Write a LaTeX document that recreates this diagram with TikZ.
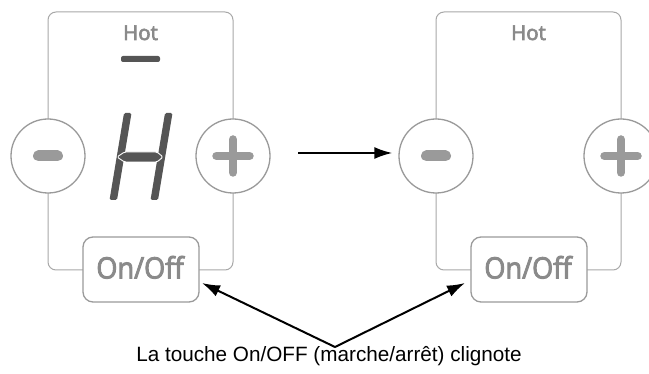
\documentclass[tikz,border=0pt]{standalone}
\usepackage{fontspec}
\setmainfont{Liberation Sans}
\newfontfamily\panelfont[FakeBold=3, FakeStretch=0.92]{Open Sans}
\newfontfamily\hotfont[FakeBold=3]{Open Sans}
\usetikzlibrary{arrows.meta}
\definecolor{rimgray}{HTML}{A8A8A8}
\definecolor{keygray}{HTML}{9A9A9A}
\definecolor{textgray}{HTML}{8A8A8A}
\definecolor{segdark}{HTML}{555555}

\begin{document}
\begin{tikzpicture}[
        x=1pt, y=-1pt,
        panel/.style={draw=rimgray, line width=1pt, rounded corners=8pt, minimum width=185pt, minimum height=258pt, inner sep=0pt},
        keyring/.style={circle, draw=keygray, line width=1.3pt, fill=white, minimum size=74pt, inner sep=0pt},
        keysign/.style={keygray, line width=8.5pt, line cap=round},
        onoffkey/.style={draw=keygray, line width=1.3pt, fill=white, rounded corners=10pt, minimum width=116pt, minimum height=65pt, inner sep=0pt},
        keylabel/.style={font=\panelfont\fontsize{29.5}{29.5}\selectfont, text=textgray, anchor=base, inner sep=0pt},
        hotlabel/.style={font=\hotfont\fontsize{20.5}{20.5}\selectfont, text=textgray, anchor=base, inner sep=0pt},
        segment/.style={fill=segdark, rounded corners=1.5pt},
        pointer/.style={line width=2pt, black},
    ]
    \useasboundingbox (0,0) rectangle (649,374);
    \clip (0,0) rectangle (649,374);

    % Two control panels, before and after
    \foreach \p/\dx in {L/0, R/388} {
        \begin{scope}[xshift=\dx pt]
            \node[panel] (panel\p) at (140.5,141) {};
            \node[hotlabel] (hot\p) at (140.5,40) {Hot};
            \node[keyring] (minus\p) at (48,156) {};
            \draw[keysign, line width=11pt] ([xshift=-9.5pt]minus\p.center) -- ([xshift=9.5pt]minus\p.center);
            \node[keyring] (plus\p) at (233,156) {};
            \draw[keysign] ([xshift=-16.5pt]plus\p.center) -- ([xshift=16.5pt]plus\p.center)
                           ([yshift=-16.5pt]plus\p.center) -- ([yshift=16.5pt]plus\p.center);
            \node[onoffkey] (onoff\p) at (141,269.5) {};
            \node[keylabel] (onofftext\p) at (140,278.5) {On/Off};
        \end{scope}
    }

    % Display of the left panel: bar and H
    \fill[segdark, rounded corners=2pt] (121,56) rectangle (160,62);
    \fill[segment] (124,113) -- (131.5,113) -- (117,200) -- (109.5,200) -- cycle;
    \fill[segment] (165,113) -- (172.5,113) -- (158,200) -- (150.5,200) -- cycle;
    \filldraw[segment, draw=white, line width=0.9pt] (117,157) -- (124.5,152) -- (157,152)
        -- (163,157) -- (157,162) -- (124.5,162) -- cycle;

    % Arrows
    \coordinate (flowstart) at (298,153);
    \draw[pointer, -{Latex[length=18pt, width=12pt]}, shorten >=6pt] (flowstart) -- (flowstart -| minusR.west);

    \coordinate (apex) at (335,347);
    \coordinate (tipL) at (202,283);
    \coordinate (tipR) at (465,283);
    \draw[pointer, {Latex[length=18pt, width=12pt]}-{Latex[length=18pt, width=12pt]}] (tipL) -- (apex) -- (tipR);

    \node[font=\fontsize{20.7}{24}\selectfont, anchor=base, inner sep=0pt] (caption) at (329,362)
        {La touche On/OFF (marche/arrêt) clignote};
\end{tikzpicture}
\end{document}
